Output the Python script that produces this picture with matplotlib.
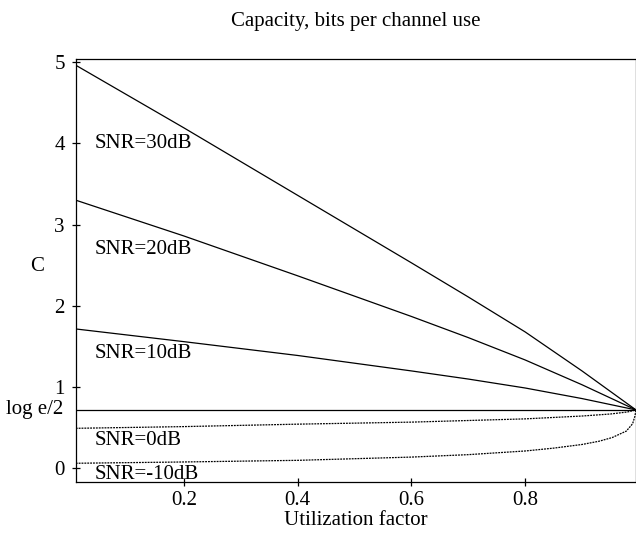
import matplotlib
matplotlib.use("Agg")
import matplotlib.pyplot as plt
import matplotlib.transforms as mtransforms

plt.rcParams['font.family'] = ['Liberation Serif', 'DejaVu Serif']

# utilization factor grid
u = [0.01, 0.2, 0.4, 0.6, 0.7, 0.8, 0.9, 0.995]
u_0db = [0.01, 0.2, 0.4, 0.6, 0.8, 0.9, 0.95, 0.98, 0.995]
u_m10db = [0.01, 0.2, 0.4, 0.6, 0.7, 0.8, 0.85, 0.9, 0.93, 0.953, 0.978, 0.989, 0.993, 0.995]

# capacity curves, bits per channel use
c_30db = [4.96, 4.19, 3.36, 2.53, 2.11, 1.68, 1.20, 0.72]
c_20db = [3.30, 2.86, 2.37, 1.87, 1.61, 1.335, 1.03, 0.72]
c_10db = [1.716, 1.56, 1.39, 1.20, 1.10, 0.99, 0.86, 0.72]
c_0db = [0.494, 0.515, 0.545, 0.57, 0.61, 0.645, 0.67, 0.695, 0.72]
c_m10db = [0.064, 0.08, 0.10, 0.14, 0.17, 0.215, 0.25, 0.295, 0.335, 0.38, 0.46, 0.55, 0.64, 0.72]
c_half_log_e = 0.7213

labels = ['SNR=30dB', 'SNR=20dB', 'SNR=10dB', 'SNR=0dB', 'SNR=-10dB']
label_y = [4.0, 2.69, 1.42, 0.35, -0.07]

fig = plt.figure(figsize=(6.36, 5.36), dpi=100)
ax = fig.add_axes([0.1195, 0.1002, 0.8805, 0.7898])

ax.plot(u, c_30db, color='black', lw=0.9)
ax.plot(u, c_20db, color='black', lw=0.9)
ax.plot(u, c_10db, color='black', lw=0.9)
ax.axhline(c_half_log_e, color='black', lw=0.9)
ax.plot(u_0db, c_0db, color='black', lw=0.9, linestyle=(0, (1.5, 0.8)))
ax.plot(u_m10db, c_m10db, color='black', lw=0.9, linestyle=(0, (1.5, 0.8)))

for txt, yy in zip(labels, label_y):
    ax.text(0.044, yy, txt, fontsize=15, va='center', ha='left')

ax.set_xlim(0.0104, 0.995)
ax.set_ylim(-0.17, 5.037)
ax.set_xticks([0.2, 0.4, 0.6, 0.8])
ax.set_xticklabels(['0.2', '0.4', '0.6', '0.8'])
ax.set_yticks([0, 1, 2, 3, 4, 5])
ax.tick_params(direction='inout', length=6, width=0.9, labelsize=15)
ax.tick_params(axis='y', pad=5)
ax.tick_params(axis='x', pad=3)
for s in ax.spines.values():
    s.set_linewidth(0.9)

# extra label for the log e/2 level
trans = mtransforms.blended_transform_factory(ax.transAxes, ax.transData)
ax.text(-0.022, c_half_log_e, 'log e/2', transform=trans, fontsize=15,
        ha='right', va='center')

ax.set_xlabel('Utilization factor', fontsize=15, labelpad=1)
ax.text(-0.07, 2.48, 'C', transform=trans, fontsize=15, ha='center', va='center')
ax.set_title('Capacity, bits per channel use', fontsize=15, pad=24)

fig.savefig('out.png', dpi=100)
